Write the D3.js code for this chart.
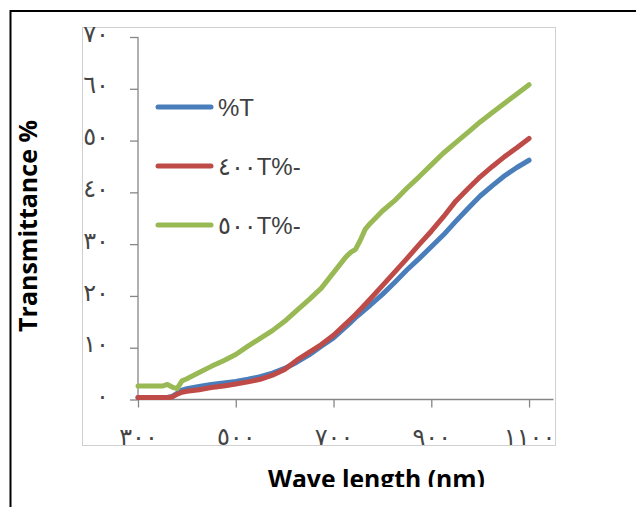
<!DOCTYPE html>
<html><head><meta charset="utf-8">
<script src="https://cdn.jsdelivr.net/npm/d3@7"></script>
<style>body{margin:0;background:#fff} svg{display:block}</style>
</head><body><svg id="c" width="636" height="507"></svg>
<script>
// ---- data ----
const wavelengths = [300,325,350,360,370,380,390,400,425,450,475,500,525,550,575,600,625,650,675,700,725,735,745,755,765,775,800,825,850,875,900,925,950,975,1000,1025,1050,1075,1100];
const seriesT   = [0.4,0.4,0.4,0.4,0.6,1.2,1.8,2.1,2.5,2.9,3.2,3.5,3.9,4.4,5.1,6.0,7.2,8.6,10.3,11.9,14.0,14.9,15.8,16.6,17.4,18.2,20.3,22.6,25.0,27.2,29.5,31.8,34.4,36.9,39.3,41.3,43.2,44.8,46.2];
const series400 = [0.4,0.4,0.4,0.4,0.5,1.0,1.4,1.6,1.9,2.3,2.6,3.0,3.4,3.9,4.7,5.8,7.6,9.1,10.6,12.4,14.6,15.5,16.4,17.4,18.4,19.4,22.0,24.6,27.2,29.9,32.5,35.3,38.3,40.7,43.0,45.0,46.9,48.6,50.4];
const series500 = [2.6,2.6,2.6,2.9,2.4,2.1,3.6,4.0,5.2,6.4,7.5,8.7,10.3,11.8,13.3,15.1,17.2,19.3,21.5,24.5,27.5,28.4,29.0,30.8,32.9,34.0,36.4,38.4,40.8,43.0,45.3,47.6,49.6,51.6,53.6,55.4,57.2,59.0,60.8];
const seriesNames = ['%T', '٤٠٠T%-', '٥٠٠T%-'];
const xTickValues = [300,500,700,900,1100];
const yTickValues = [0,10,20,30,40,50,60,70];
const xTitle = 'Wave length (nm)';
const yTitle = 'Transmittance %';

// ---- style ----
const colors = ['#4a7ebb','#be4b48','#98b954'];
const arabic = d => String(d).replace(/\d/g, c => '٠١٢٣٤٥٦٧٨٩'[+c]);

const svg = d3.select('#c');
const x = d3.scaleLinear().domain([300,1150]).range([138,553.5]);
const y = d3.scaleLinear().domain([0,70]).range([399.5,37]);

// outer frame (only top & left visible)
svg.append('path').attr('d','M10.5,507V11H636').attr('fill','none').attr('stroke','#000').attr('stroke-width',2);
// plot area border
svg.append('rect').attr('x',82.5).attr('y',27.5).attr('width',473).attr('height',418)
  .attr('fill','#fff').attr('stroke','#d0d0d0').attr('stroke-width',1);

const axisColor = '#868686';
const gy = svg.append('g').attr('transform','translate(138,0)')
  .call(d3.axisLeft(y).tickValues(yTickValues).tickSize(8).tickPadding(21).tickFormat(arabic));
const gx = svg.append('g').attr('transform','translate(0,399.5)')
  .call(d3.axisBottom(x).tickValues(xTickValues).tickSize(8).tickFormat(arabic));
[gx,gy].forEach(g=>{
  g.select('.domain').attr('stroke',axisColor).attr('stroke-width',1.3);
  g.selectAll('.tick line').attr('stroke',axisColor).attr('stroke-width',1.3);
  g.selectAll('text').attr('font-family','DejaVu Sans').attr('font-size',24)
    .attr('fill','#444').style('letter-spacing','2.5px');
});
gx.select('.domain').attr('d','M138,0H553.5');
gy.select('.domain').attr('d','M0,399.5V37');
gy.selectAll('text').attr('dy','0.3em').attr('y',-3);
gx.selectAll('text').attr('dy',null).attr('y',45);

// series
const line = d3.line().x((d,i)=>x(wavelengths[i])).y(d=>y(d));
[seriesT, series400, series500].forEach((s,k)=>{
  svg.append('path').datum(s).attr('d',line).attr('fill','none')
    .attr('stroke',colors[k]).attr('stroke-width',5)
    .attr('stroke-linejoin','round').attr('stroke-linecap','round');
});

// legend
const legY = [107,166,225];
seriesNames.forEach((n,k)=>{
  svg.append('line').attr('x1',158).attr('x2',211).attr('y1',legY[k]).attr('y2',legY[k])
    .attr('stroke',colors[k]).attr('stroke-width',5).attr('stroke-linecap','round');
  svg.append('text').attr('x',218).attr('y',legY[k]).attr('dy','0.36em')
    .attr('font-family','Liberation Sans, DejaVu Sans').attr('font-size',24)
    .attr('fill','#404040').attr('direction','ltr').style('unicode-bidi','bidi-override')
    .text(n);
});

// titles
function fitWidth(sel, w){
  const cur = sel.node().getComputedTextLength();
  sel.attr('font-size', parseFloat(sel.attr('font-size'))*w/cur);
}
const yt = svg.append('text').attr('transform','translate(37,226) rotate(-90)')
  .attr('text-anchor','middle').attr('font-family','Open Sans').attr('font-weight','bold')
  .attr('font-size',20).attr('fill','#000').text(yTitle);
fitWidth(yt, 212);
const xt = svg.append('text').attr('x',376.5).attr('y',488)
  .attr('text-anchor','middle').attr('font-family','Open Sans').attr('font-weight','bold')
  .attr('font-size',20).attr('fill','#000').text(xTitle);
fitWidth(xt, 217);
// clipped bottom strip
svg.append('rect').attr('x',12).attr('y',487).attr('width',624).attr('height',20).attr('fill','#fff');
</script></body></html>
